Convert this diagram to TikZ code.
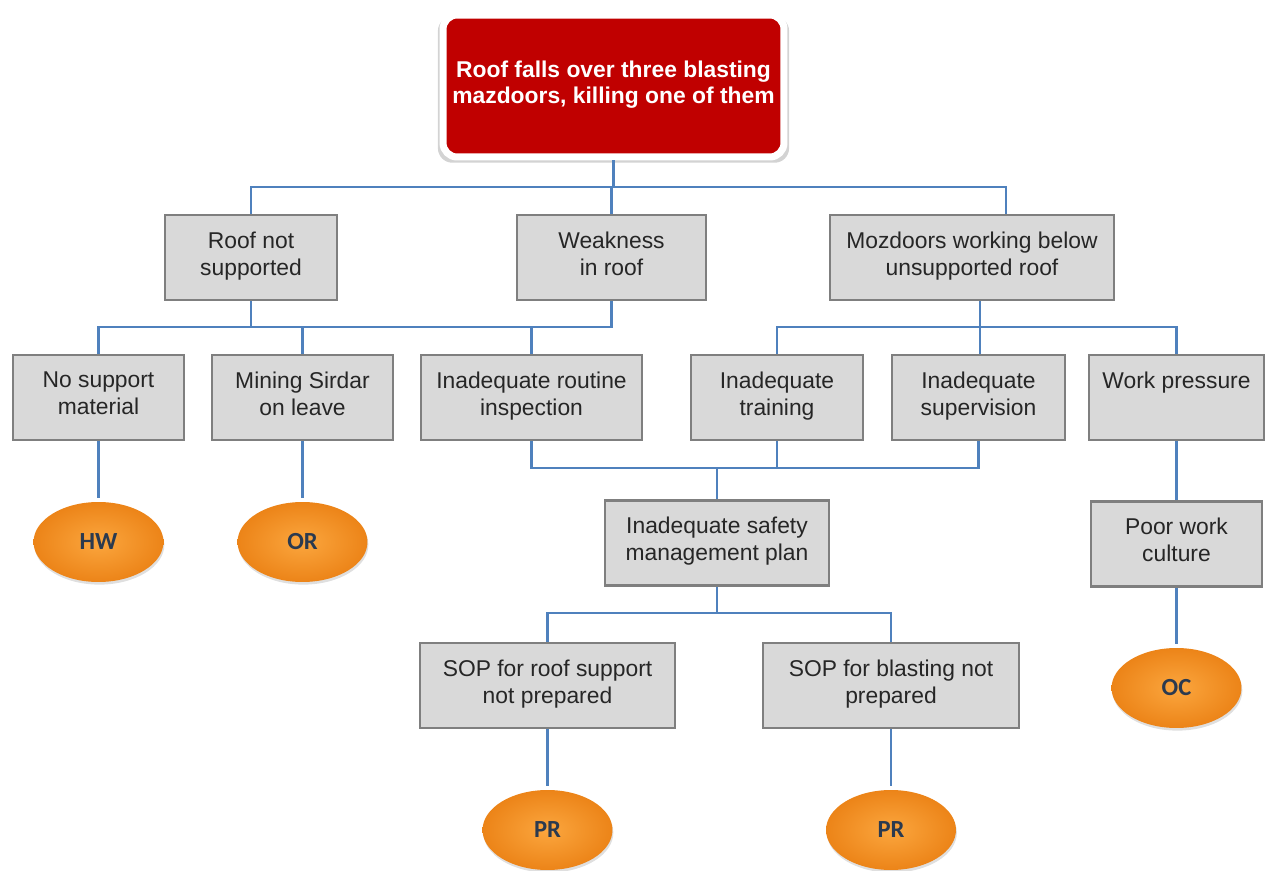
\documentclass[tikz,border=0pt]{standalone}
\usepackage{fontspec}
\setmainfont{Liberation Sans}
\newfontfamily\ovalfont{Carlito}
\usetikzlibrary{shapes.geometric,shadows}

\definecolor{linkblue}{HTML}{4F81BD}
\definecolor{boxfill}{HTML}{D9D9D9}
\definecolor{boxline}{HTML}{7F7F7F}
\definecolor{topred}{HTML}{C00000}
\definecolor{ovalin}{HTML}{FBA63E}
\definecolor{ovalout}{HTML}{EC8418}
\definecolor{ovaltext}{HTML}{2B3A4F}
\definecolor{txt}{HTML}{262626}

\tikzset{
  cause/.style={draw=boxline, fill=boxfill, line width=1.6pt, align=center, minimum height=1.7cm, inner sep=2pt, text=txt, font=\fontsize{13}{15.3}\selectfont, execute at begin node=\strut, execute at end node=\strut},
  oval/.style={ellipse, shading=radial, inner color=ovalin, outer color=ovalout, minimum width=2.6cm, minimum height=1.6cm, text=ovaltext, font=\ovalfont\bfseries\fontsize{14}{16}\selectfont, drop shadow={opacity=0.25, shadow xshift=0.5pt, shadow yshift=-1.5pt}},
  event/.style={draw=white, fill=topred, line width=4pt, rounded corners=8pt, align=center, text=white, minimum width=6.82cm, minimum height=2.84cm, font=\bfseries\fontsize{13}{14.8}\selectfont, execute at begin node=\strut, execute at end node=\strut, drop shadow={opacity=0.35, shadow scale=1.03, shadow xshift=0pt, shadow yshift=-2pt}},
  link/.style={linkblue, line width=1.5pt},
}

\begin{document}
\begin{tikzpicture}[x=0.02cm, y=-0.02cm]
  \useasboundingbox (0,0) rectangle (1265,871);

  \node[event] (top) at (613.5,86) {Roof falls over three blasting\\mazdoors, killing one of them};

  \node[cause, minimum width=3.44cm] (roof) at (251,257.5) {Roof not\\supported};
  \node[cause, minimum width=3.78cm] (weak) at (611.5,257.5) {Weakness\\in roof};
  \node[cause, minimum width=5.68cm] (moz) at (972,257.5) {Mozdoors working below\\unsupported roof};

  \node[cause, minimum width=3.42cm] (nosup) at (98.5,397.5) {No support\\material};
  \node[cause, minimum width=3.62cm] (sirdar) at (302.5,397.5) {Mining Sirdar\\on leave};
  \node[cause, minimum width=4.42cm] (insp) at (531.5,397.5) {Inadequate routine\\inspection};
  \node[cause, minimum width=3.44cm] (train) at (777,397.5) {Inadequate\\training};
  \node[cause, minimum width=3.46cm] (sup) at (978.5,397.5) {Inadequate\\supervision};
  \node[cause, minimum width=3.5cm] (wp) at (1176.5,397.5) {Work pressure\\\mbox{}};

  \node[cause, minimum width=4.48cm] (safety) at (717,543) {Inadequate safety\\management plan};
  \node[cause, minimum width=3.42cm] (pwc) at (1176.5,544) {Poor work\\culture};

  \node[cause, minimum width=5.1cm] (soproof) at (547.5,685.5) {SOP for roof support\\not prepared};
  \node[cause, minimum width=5.12cm] (sopblast) at (891,685.5) {SOP for blasting not\\prepared};

  \node[oval] (hw) at (98.5,542) {HW};
  \node[oval] (or) at (302.5,542) {OR};
  \node[oval] (oc) at (1176.5,688) {OC};
  \node[oval] (pr1) at (547.5,830) {PR};
  \node[oval] (pr2) at (891,830) {PR};

  \coordinate (r1) at (0,187);
  \coordinate (r2) at (0,327);
  \coordinate (r3) at (0,468);
  \coordinate (r4) at (0,613);
  \coordinate (mzin) at ([xshift=0.68cm]moz.north);
  \coordinate (mzout) at ([xshift=0.16cm]moz.south);

  \draw[link] (top.south) -- (top.south |- r1);
  \draw[link] (roof.north) -- (roof.north |- r1) -- (mzin |- r1) -- (mzin);
  \draw[link] (weak.north) -- (weak.north |- r1);

  \draw[link] (weak.south) -- (weak.south |- r2) -- (nosup.north |- r2) -- (nosup.north);
  \draw[link] (roof.south) -- (roof.south |- r2);
  \draw[link] (sirdar.north) -- (sirdar.north |- r2);
  \draw[link] (insp.north) -- (insp.north |- r2);
  \draw[link] (mzout) -- (mzout |- sup.north);
  \draw[link] (train.north) -- (train.north |- r2) -- (wp.north |- r2) -- (wp.north);

  \draw[link] (insp.south) -- (insp.south |- r3) -- (sup.south |- r3) -- (sup.south);
  \draw[link] (train.south) -- (train.south |- r3);
  \draw[link] (safety.north) -- (safety.north |- r3);
  \draw[link] (safety.south) -- (safety.south |- r4);
  \draw[link] (soproof.north) -- (soproof.north |- r4) -- (sopblast.north |- r4) -- (sopblast.north);

  \draw[link] (wp) -- (pwc);
  \draw[link, shorten >=2pt] (nosup) -- (hw);
  \draw[link, shorten >=2pt] (sirdar) -- (or);
  \draw[link, shorten >=2pt] (pwc) -- (oc);
  \draw[link, shorten >=2pt] (soproof) -- (pr1);
  \draw[link, shorten >=2pt] (sopblast) -- (pr2);
\end{tikzpicture}
\end{document}
